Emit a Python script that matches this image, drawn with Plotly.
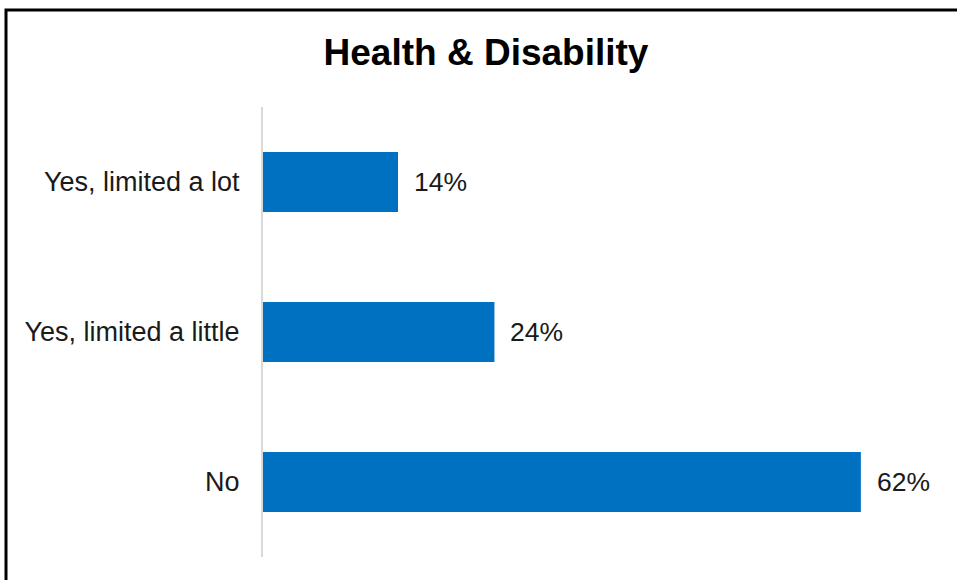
import plotly.graph_objects as go

categories = ["Yes, limited a lot", "Yes, limited a little", "No"]
values = [14, 24, 62]
value_labels = ["14%", "24%", "62%"]
title_text = "Health & Disability"

W, H = 957, 580
L, R, T, B = 263, 19, 107, 23
pw, ph = W - L - R, H - T - B
FONT = "Arial, Liberation Sans, sans-serif"

fig = go.Figure()
fig.add_trace(go.Bar(
    x=values, y=categories, orientation="h",
    marker=dict(color="#0070C0", line=dict(width=0)),
    hoverinfo="skip",
))

for v, c, t in zip(values, categories, value_labels):
    fig.add_annotation(x=v, y=c, text=t, showarrow=False, xanchor="left",
                       xshift=14, font=dict(family=FONT, size=26.5, color="#1a1a1a"))

# frame (extends off the right and bottom edges)
fig.add_shape(type="rect", xref="paper", yref="paper",
              x0=(6 - L) / pw, x1=(W + 20 - L) / pw,
              y0=-(B + 20) / ph, y1=(H - 10 - B) / ph,
              line=dict(color="black", width=3), fillcolor="rgba(0,0,0,0)")

fig.update_layout(
    width=W, height=H,
    margin=dict(l=L, r=R, t=T, b=B, pad=0),
    paper_bgcolor="white", plot_bgcolor="white",
    bargap=0.6,
    showlegend=False,
    title=dict(text="<b>" + title_text + "</b>", x=486 / W, xanchor="center",
               y=1 - 52 / H, yanchor="middle",
               font=dict(family=FONT, size=37, color="black")),
    xaxis=dict(range=[0, 70], visible=False, fixedrange=True),
    yaxis=dict(categoryorder="array", categoryarray=categories, autorange="reversed",
               showline=True, linecolor="#D9D9D9", linewidth=2, showgrid=False,
               ticks="", ticklabelstandoff=16, fixedrange=True,
               tickfont=dict(family=FONT, size=27, color="#1a1a1a")),
    font=dict(family=FONT),
)

fig.write_html("out.html", post_script="document.body.style.margin='0';",
               config={"displayModeBar": False})
